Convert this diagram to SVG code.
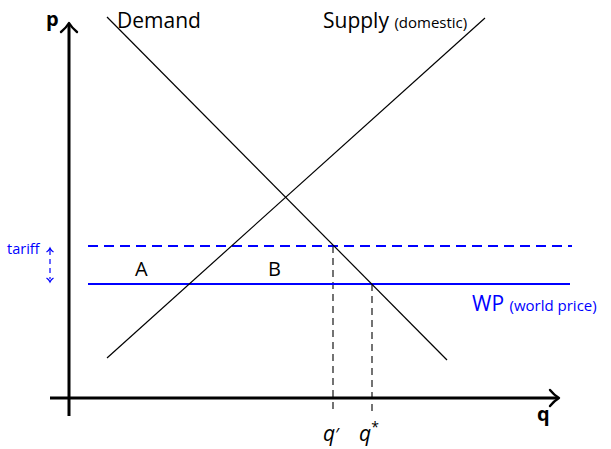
<svg xmlns="http://www.w3.org/2000/svg" width="611" height="449" viewBox="0 0 611 449">
<style>
.ax{stroke:#000;stroke-width:3;fill:none}
.ah{stroke:#000;stroke-width:2.4;fill:none;stroke-linecap:round;stroke-linejoin:round}
.curve{stroke:#000;stroke-width:1.2;fill:none}
.guide{stroke:#000;stroke-width:1.1;stroke-dasharray:7,5;fill:none}
.wp{stroke:#0000ff;stroke-width:2;fill:none}
.wpd{stroke:#0000ff;stroke-width:2;stroke-dasharray:10,6;fill:none}
.t{font-family:"Open Sans","DejaVu Sans",sans-serif;fill:#000}
.b{fill:#0000ff}
.bl{font-weight:bold}
</style>
<rect width="611" height="449" fill="#fff"/>
<g id="connectors">
<line class="guide" x1="333" y1="246" x2="333" y2="413"/>
<line class="guide" x1="372" y1="284" x2="372" y2="413"/>
<line class="wpd" x1="88" y1="246" x2="572" y2="246"/>
<line class="wp" x1="88" y1="284" x2="570" y2="284"/>
<line class="curve" x1="107" y1="17" x2="447" y2="360"/>
<line class="curve" x1="107" y1="358" x2="485" y2="18"/>
<path d="M50 250 L50 279" stroke="#0000ff" stroke-width="1.2" stroke-dasharray="5,4" fill="none"/>
<path d="M46.5 252 Q49 250.5 50 248 Q51 250.5 53.5 252" stroke="#0000ff" stroke-width="1.2" fill="none"/>
<path d="M46.5 278 Q49 279.5 50 282 Q51 279.5 53.5 278" stroke="#0000ff" stroke-width="1.2" fill="none"/>
</g>
<g id="axes">
<line class="ax" x1="69" y1="416" x2="69" y2="24"/>
<line class="ax" x1="50" y1="398" x2="558" y2="398"/>
<path class="ah" d="M61 32 Q66 28 69 23 Q72 28 77 32"/>
<path class="ah" d="M550 390 Q554 395 559 398 Q554 401 550 406"/>
</g>
<g id="labels">
<text class="t bl" x="46" y="26" font-size="20">p</text>
<text class="t bl" x="537" y="421" font-size="20">q</text>
<text class="t" x="117" y="28" font-size="21">Demand</text>
<text class="t" x="323" y="28" font-size="21">Supply <tspan font-size="15">(domestic)</tspan></text>
<text class="t" x="135" y="276" font-size="20">A</text>
<text class="t" x="268" y="276" font-size="20">B</text>
<text class="t b" x="472" y="311" font-size="21">WP <tspan font-size="15">(world price)</tspan></text>
<text class="t b" x="7" y="254" font-size="14.5">tariff</text>
<text class="t" x="323" y="441" font-size="21" font-style="italic">q<tspan font-style="normal" font-size="18">′</tspan></text>
<text class="t" x="359" y="441" font-size="21" font-style="italic">q<tspan font-style="normal" font-size="14" dy="-9">*</tspan></text>
</g>
</svg>
